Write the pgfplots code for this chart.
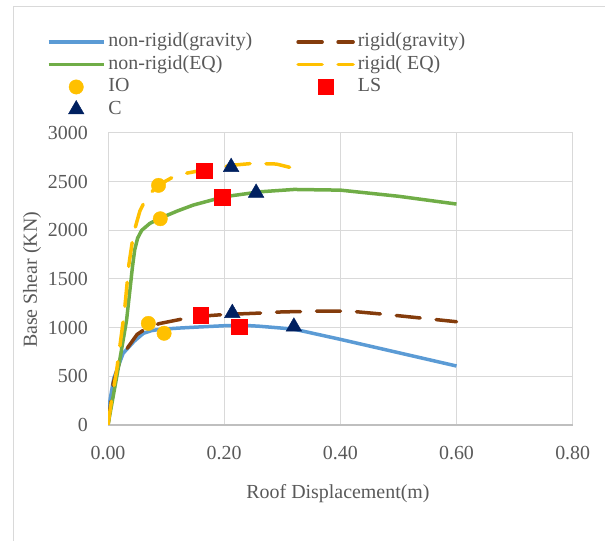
\documentclass[border=0pt]{standalone}
\usepackage{fontspec}
\setmainfont{Liberation Serif}
\usepackage{pgfplots}
\pgfplotsset{compat=1.18}
\definecolor{cblue}{HTML}{5B9BD5}
\definecolor{cbrown}{HTML}{843C0C}
\definecolor{cgreen}{HTML}{70AD47}
\definecolor{cyellow}{HTML}{FFC000}
\definecolor{cred}{HTML}{FF0000}
\definecolor{cnavy}{HTML}{002060}
\definecolor{txt}{HTML}{595959}
\definecolor{gridc}{HTML}{D9D9D9}
\definecolor{axc}{HTML}{BFBFBF}
\begin{document}
\begin{tikzpicture}
\useasboundingbox (0bp,0bp) rectangle (605bp,541bp);
\draw[gridc, line width=1bp] (13bp,-20bp) -- (13bp,534bp) -- (625bp,534bp);
\begin{axis}[
  at={(108bp,116bp)}, anchor=south west,
  scale only axis, width=464.7bp, height=292bp,
  xmin=0, xmax=0.8, ymin=0, ymax=3000,
  xtick={0,0.2,0.4,0.6,0.8}, ytick={0,500,1000,1500,2000,2500,3000},
  grid=major, major grid style={gridc, line width=1bp},
  axis x line*=bottom, axis y line*=left,
  x axis line style={axc, line width=1.5bp, -},
  y axis line style={gridc, line width=1bp, -},
  tick style={draw=none},
  /pgf/number format/assume math mode=true,
  xticklabel style={/pgf/number format/.cd, fixed, fixed zerofill, precision=2, /tikz/.cd, anchor=base, yshift=-34bp},
  yticklabel style={/pgf/number format/.cd, fixed, 1000 sep={}, /tikz/.cd, anchor=east, inner xsep=0pt, xshift=-20bp},
  ticklabel style={font=\fontsize{20}{24}\selectfont, text=txt},
  xlabel={Roof Displacement(m)}, ylabel={Base Shear (KN)},
  every axis x label/.style={at={(axis description cs:0.495,-0.236)}, anchor=center, font=\fontsize{20}{24}\selectfont, text=txt},
  every axis y label/.style={at={(axis description cs:-0.1636,0.497)}, rotate=90, anchor=center, font=\fontsize{20}{24}\selectfont, text=txt},
  legend columns=2,
  legend image code/.code={\draw[mark repeat=2,mark phase=2,#1] plot coordinates {(0bp,0bp) (27.5bp,0bp) (55bp,0bp)};},
  legend style={draw=none, fill=none, inner sep=0pt, outer sep=0pt,
    at={(axis description cs:-0.1313,1.346)}, anchor=north west,
    font=\fontsize{20}{24}\selectfont, text=txt,
    nodes={inner xsep=3bp, inner ysep=0pt, text height=15bp, text depth=5bp},
    row sep=2.5bp,
    /tikz/every even column/.append style={column sep=41bp}},
  legend cell align=left,
]
\addplot[cblue, line width=3.5bp] coordinates {(0,0) (0.0035,257) (0.01,480) (0.026,736) (0.045,860) (0.061,942) (0.075,970) (0.09,983) (0.12,995) (0.15,1005) (0.2,1020) (0.23,1025) (0.26,1015) (0.32,985) (0.4,880) (0.5,743) (0.6,606)};
\addlegendentry{non-rigid(gravity)}
\addplot[cbrown, line width=3.5bp, line cap=round, dash pattern=on 24bp off 16bp] coordinates {(0,0) (0.009,430) (0.02,650) (0.035,805) (0.05,930) (0.07,1010) (0.09,1044) (0.147,1112) (0.2,1135) (0.262,1150) (0.3,1162) (0.377,1171) (0.42,1168) (0.48,1135) (0.6,1061)};
\addlegendentry{rigid(gravity)}
\addplot[cgreen, line width=3.5bp] coordinates {(0,0) (0.02,660) (0.032,1078) (0.038,1400) (0.042,1620) (0.046,1800) (0.051,1920) (0.058,2000) (0.072,2071) (0.09,2125) (0.12,2200) (0.147,2260) (0.2,2345) (0.262,2396) (0.32,2420) (0.4,2413) (0.5,2350) (0.6,2270)};
\addlegendentry{non-rigid(EQ)}
\addplot[cyellow, line width=3.5bp, line cap=round, dash pattern=on 24bp off 16bp] coordinates {(0,0) (0.006,250) (0.015,565) (0.028,1150) (0.036,1650) (0.044,1969) (0.055,2200) (0.067,2345) (0.087,2465) (0.118,2568) (0.164,2619) (0.216,2670) (0.25,2688) (0.29,2681) (0.337,2612)};
\addlegendentry{rigid( EQ)}
\addplot[only marks, mark=*, mark size=7.2bp, cyellow, mark options={draw=cyellow, fill=cyellow}] coordinates {(0.087,2462) (0.09,2119) (0.0695,1044) (0.0966,942)};
\addlegendentry{IO}
\addplot[only marks, mark=square*, mark size=7.7bp, cred, mark options={draw=cred, fill=cred}] coordinates {(0.1655,2612) (0.1966,2339) (0.16,1130) (0.226,1010)};
\addlegendentry{LS}
\addplot[only marks, mark=triangle*, mark size=9bp, cnavy, mark options={draw=cnavy, fill=cnavy}] coordinates {(0.212,2650) (0.255,2385) (0.214,1150) (0.32,1010)};
\addlegendentry{C}
\end{axis}
\end{tikzpicture}
\end{document}
